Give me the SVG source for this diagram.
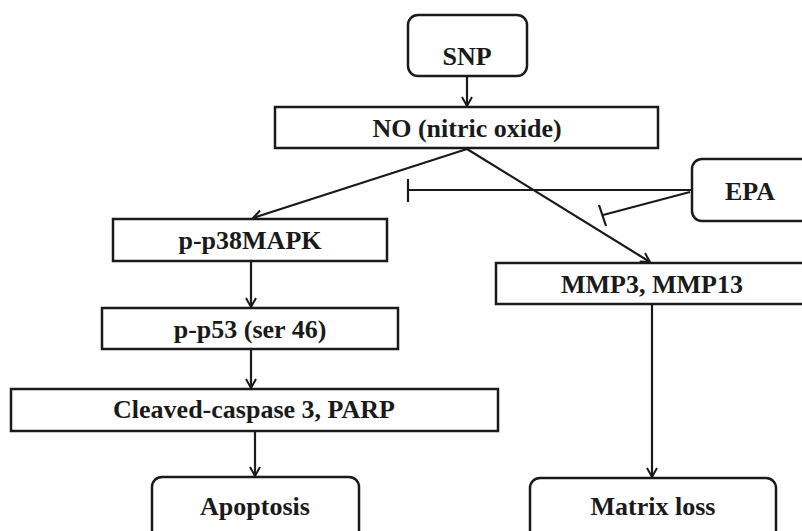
<svg xmlns="http://www.w3.org/2000/svg" width="802" height="531" viewBox="0 0 802 531">
<defs>
<style>
.box{fill:#fff;stroke:#1a1a1a;stroke-width:2.5}
.lbl{font-family:"Liberation Serif","DejaVu Serif",serif;font-weight:bold;font-size:26px;fill:#1a1a1a;text-anchor:middle}
.ln{stroke:#1a1a1a;stroke-width:2.2;fill:none}
</style>
<marker id="arr" markerUnits="userSpaceOnUse" markerWidth="13" markerHeight="13" refX="10" refY="6" orient="auto">
<path d="M1,1 L10,6 L1,11" fill="none" stroke="#1a1a1a" stroke-width="2"/>
</marker>
</defs>
<rect width="802" height="531" fill="#fff"/>
<g id="connectors">
<line class="ln" x1="467" y1="76" x2="467" y2="106" marker-end="url(#arr)"/>
<line class="ln" x1="467" y1="149" x2="253" y2="218" marker-end="url(#arr)"/>
<line class="ln" x1="467" y1="149" x2="650" y2="262" marker-end="url(#arr)"/>
<line class="ln" x1="692" y1="190" x2="408" y2="190"/>
<line class="ln" x1="408" y1="179" x2="408" y2="202"/>
<line class="ln" x1="690" y1="192" x2="603" y2="215"/>
<line class="ln" x1="599" y1="205" x2="606" y2="226"/>
<line class="ln" x1="251" y1="261" x2="251" y2="307" marker-end="url(#arr)"/>
<line class="ln" x1="251" y1="349" x2="251" y2="388" marker-end="url(#arr)"/>
<line class="ln" x1="255" y1="431" x2="255" y2="476" marker-end="url(#arr)"/>
<line class="ln" x1="652" y1="304" x2="652" y2="477" marker-end="url(#arr)"/>
</g>
<g id="snp"><rect class="box" x="408" y="15" width="119" height="61" rx="10"/><text class="lbl" x="467" y="65">SNP</text></g>
<g id="no"><rect class="box" x="275" y="107" width="383" height="41"/><text class="lbl" x="467" y="137">NO (nitric oxide)</text></g>
<g id="epa"><rect class="box" x="692" y="159" width="130" height="62" rx="10"/><text class="lbl" x="750" y="200">EPA</text></g>
<g id="p38"><rect class="box" x="113" y="219" width="274" height="42"/><text class="lbl" x="250" y="249">p-p38MAPK</text></g>
<g id="p53"><rect class="box" x="102" y="308" width="296" height="41"/><text class="lbl" x="250" y="338">p-p53 (ser 46)</text></g>
<g id="caspase"><rect class="box" x="11" y="389" width="487" height="42"/><text class="lbl" x="254" y="418">Cleaved-caspase 3, PARP</text></g>
<g id="apoptosis"><rect class="box" x="152" y="477" width="207" height="80" rx="10"/><text class="lbl" x="255" y="515">Apoptosis</text></g>
<g id="mmp"><rect class="box" x="496" y="263" width="330" height="41"/><text class="lbl" x="652" y="293">MMP3, MMP13</text></g>
<g id="matrix"><rect class="box" x="530" y="478" width="246" height="80" rx="10"/><text class="lbl" x="653" y="515">Matrix loss</text></g>
</svg>
